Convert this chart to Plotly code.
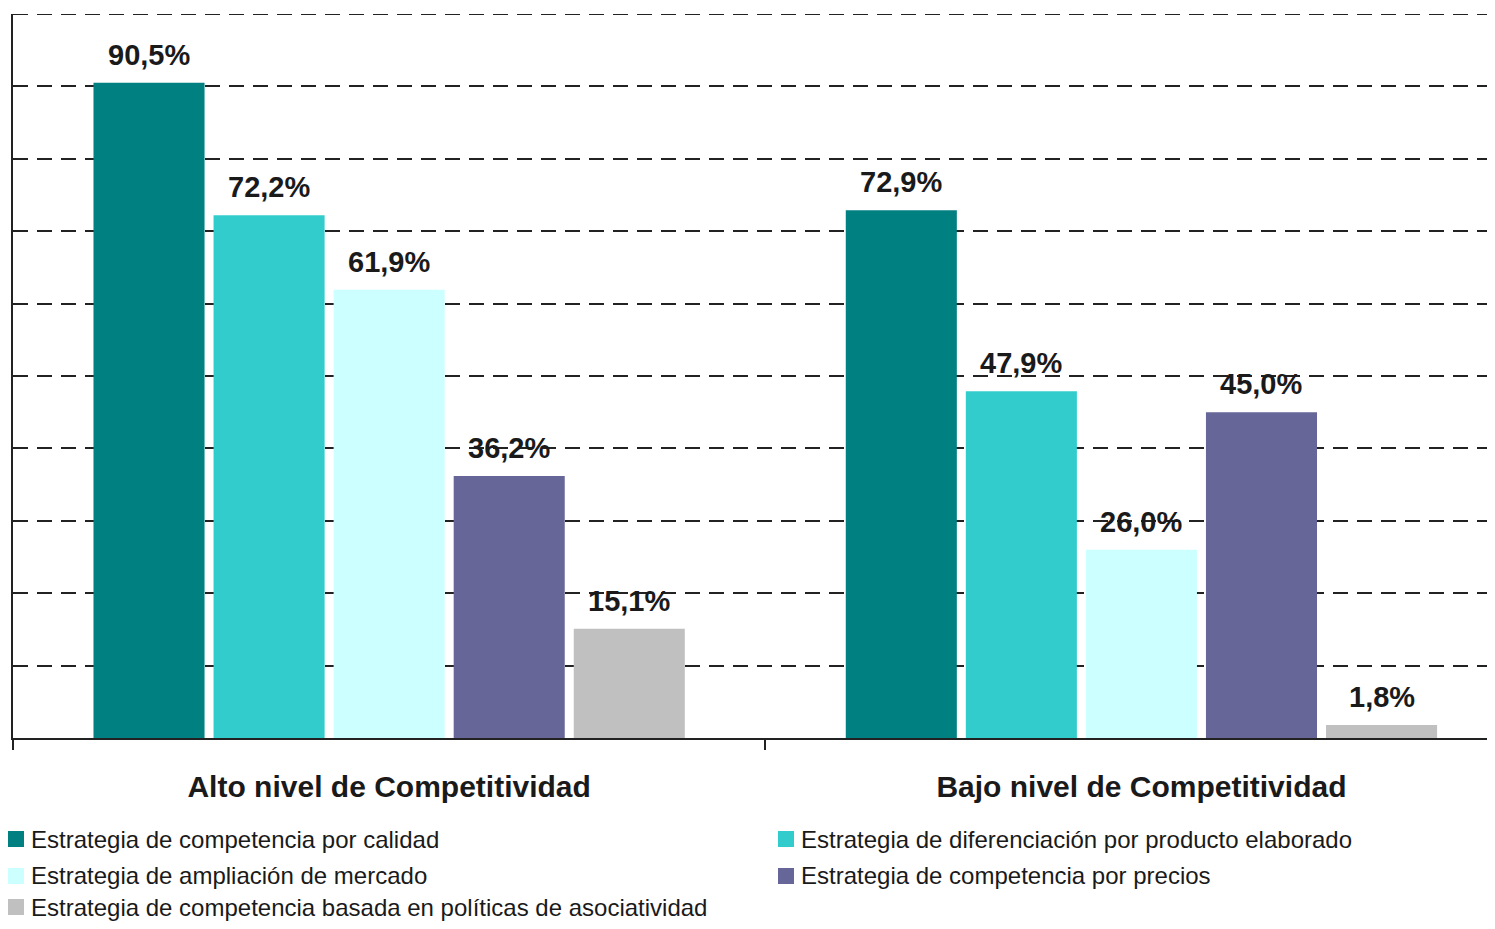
import plotly.graph_objects as go

categories = ["Alto nivel de Competitividad", "Bajo nivel de Competitividad"]
series_names = [
    "Estrategia de competencia por calidad",
    "Estrategia de diferenciación por producto elaborado",
    "Estrategia de ampliación de mercado",
    "Estrategia de competencia por precios",
    "Estrategia de competencia basada en políticas de asociatividad",
]
calidad = [90.5, 72.9]
diferenciacion = [72.2, 47.9]
ampliacion = [61.9, 26.0]
precios = [36.2, 45.0]
asociatividad = [15.1, 1.8]
series_values = [calidad, diferenciacion, ampliacion, precios, asociatividad]
colors = ["#008080", "#33CCCC", "#CCFFFF", "#666699", "#C0C0C0"]

FONT = "Liberation Sans, Arial, sans-serif"
OFF = 8  # default page body margin
W, H = 1495 - OFF, 929 - 2 * OFF  # keep the page free of scrollbars
ML, MR, MT = 13 - OFF, 0, 14 - OFF
MB = H - (738 - OFF)
PW, PH = W - ML - MR, H - MT - MB


def px_x(px):  # viewport pixel -> paper
    return (px - OFF - ML) / PW


def px_y(py):
    return (H - MB - (py - OFF)) / PH


x_idx = list(range(len(categories)))
fig = go.Figure()
for name, vals, col in zip(series_names, series_values, colors):
    fig.add_trace(go.Bar(x=x_idx, y=vals, name=name, marker=dict(color=col, line=dict(width=0)),
                         showlegend=False))

bargap = 0.202
nser = len(series_values)
slot = (1 - bargap) / nser
annotations = []
for j, vals in enumerate(series_values):
    for i, v in enumerate(vals):
        xc = i - (1 - bargap) / 2 + (j + 0.5) * slot
        annotations.append(dict(
            x=xc, y=v, xref="x", yref="y",
            text="<b>" + f"{v:.1f}".replace(".", ",") + "%</b>",
            showarrow=False, yanchor="bottom", yshift=10,
            font=dict(family=FONT, size=29, color="#1a1a1a"),
        ))

# manual legend (two columns, three rows)
shapes = []
leg_col_x = [8, 778]
leg_row_y = [839, 876, 907]
for k, (name, col) in enumerate(zip(series_names, colors)):
    cx = leg_col_x[k % 2]
    cy = leg_row_y[k // 2]
    shapes.append(dict(type="rect", xref="paper", yref="paper",
                       x0=px_x(cx), x1=px_x(cx + 16), y0=px_y(cy + 8), y1=px_y(cy - 8),
                       fillcolor=col, line=dict(width=0)))
    annotations.append(dict(x=px_x(cx + 21), y=px_y(cy), xref="paper", yref="paper",
                            xanchor="left", yanchor="middle", showarrow=False, text=name,
                            font=dict(family=FONT, size=24, color="#1a1a1a")))

# top dashed gridline at 100
shapes.append(dict(type="line", xref="paper", yref="y", x0=0, x1=1, y0=100, y1=100,
                   line=dict(color="#222", width=2, dash="15px,9px"), layer="below"))

fig.update_layout(
    width=W, height=H,
    margin=dict(l=ML, r=MR, t=MT, b=MB, pad=0),
    paper_bgcolor="white", plot_bgcolor="white",
    barmode="group", bargap=bargap, bargroupgap=0.075,
    font=dict(family=FONT, color="#1a1a1a"),
    annotations=annotations, shapes=shapes,
    showlegend=False,
    xaxis=dict(
        range=[-0.5, 1.47], tickvals=x_idx,
        ticktext=["<b>" + c + "</b>" for c in categories],
        ticks="", showline=True, linecolor="#222", linewidth=2,
        showgrid=False, zeroline=False,
        tickfont=dict(size=30, color="#1a1a1a"), ticklabelstandoff=21,
        minor=dict(tickvals=[-0.5, 0.5], ticks="outside", ticklen=10, tickwidth=2, tickcolor="#222", showgrid=False),
    ),
    yaxis=dict(
        range=[0, 100], dtick=10, showticklabels=False, ticks="",
        showline=True, linecolor="#222", linewidth=2,
        showgrid=True, gridcolor="#222", gridwidth=2, griddash="15px,9px",
        zeroline=False,
    ),
)

fig.write_html("out.html")
